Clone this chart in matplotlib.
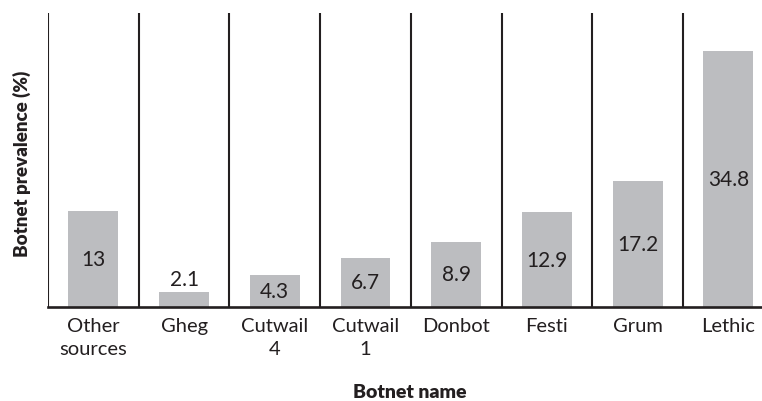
import matplotlib.pyplot as plt
import numpy as np

plt.rcParams['font.family'] = ['Lato', 'DejaVu Sans']

# Data
botnets = ['Other\nsources', 'Gheg', 'Cutwail\n4', 'Cutwail\n1', 'Donbot', 'Festi', 'Grum', 'Lethic']
prevalence = [13, 2.1, 4.3, 6.7, 8.9, 12.9, 17.2, 34.8]
value_labels = ['13', '2.1', '4.3', '6.7', '8.9', '12.9', '17.2', '34.8']

ink = '#231f20'
bar_gray = '#bcbdc0'

fig = plt.figure(figsize=(7.62, 4.02), dpi=100)
ax = fig.add_axes([48 / 762, 94 / 402, 714 / 762, 294 / 402])

x = np.arange(len(botnets))
bars = ax.bar(x, prevalence, width=0.55, color=bar_gray, zorder=2)

# value labels: centred inside the bar, or just above when the bar is too short
for xi, v, lab in zip(x, prevalence, value_labels):
    if v < 3:
        ax.text(xi, v + 0.3, lab, ha='center', va='bottom', fontsize=15,
                color=ink)
    else:
        ax.text(xi, v / 2, lab, ha='center', va='center', fontsize=15,
                color=ink)

# separators between categories
ax.vlines(x - 0.5, 0, 40, colors=ink, linewidth=1.5, zorder=3)

ax.set_xlim(-0.5, 7.37)
ax.set_ylim(0, 40)

for side in ['top', 'right', 'left']:
    ax.spines[side].set_visible(False)
ax.spines['bottom'].set_color(ink)
ax.spines['bottom'].set_linewidth(1.9)
ax.spines['bottom'].set_zorder(4)

ax.set_yticks([])
ax.set_xticks(x)
ax.set_xticklabels(botnets, fontsize=14.5, color=ink, linespacing=1.45)
ax.tick_params(axis='x', length=0, pad=7)

ax.set_ylabel('Botnet prevalence (%)', fontsize=13.5, fontweight='heavy', color=ink)
ax.yaxis.set_label_coords(-0.036, 0.49)
ax.set_xlabel('Botnet name', fontsize=14, fontweight='heavy', color=ink)
ax.xaxis.set_label_coords(0.507, -0.289)
ax.xaxis.label.set_va('center')
ax.yaxis.label.set_va('center')

fig.savefig('out.png', dpi=100)
